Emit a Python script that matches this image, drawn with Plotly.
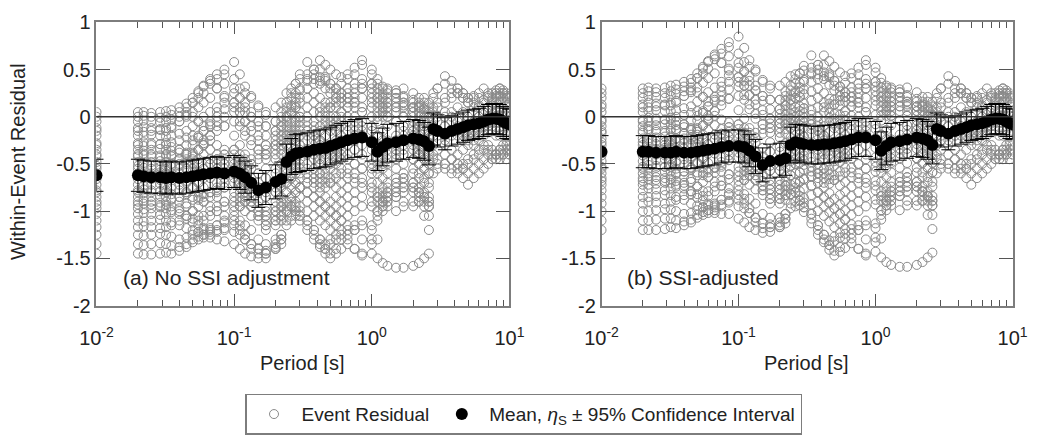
import plotly.graph_objects as go

# ---------------- data ----------------
periods = [0.01,
           0.02, 0.022, 0.025, 0.029, 0.032, 0.035, 0.04, 0.045, 0.05, 0.055,
           0.06, 0.067, 0.075, 0.085, 0.1, 0.11, 0.12, 0.133, 0.15, 0.17, 0.2, 0.22,
           0.24, 0.26, 0.28, 0.3, 0.34, 0.38, 0.42, 0.46, 0.5, 0.55, 0.6, 0.667, 0.75, 0.85,
           1.0, 1.1, 1.2, 1.3, 1.5, 1.7, 2.0, 2.2, 2.4, 2.6,
           2.8, 3.0, 3.4, 3.8, 4.2, 4.6, 5.0, 5.5, 6.0, 6.5, 7.0, 7.5, 8.0, 8.5, 9.0, 9.5, 10.0]

mean_a = [-0.62,
          -0.62, -0.63, -0.64, -0.64, -0.65, -0.64, -0.65, -0.64, -0.63, -0.62,
          -0.61, -0.60, -0.59, -0.60, -0.58, -0.60, -0.64, -0.70, -0.78, -0.75, -0.69, -0.66,
          -0.48, -0.42, -0.39, -0.38, -0.37, -0.35, -0.34, -0.33, -0.31, -0.29, -0.27, -0.25, -0.23, -0.22,
          -0.27, -0.37, -0.32, -0.28, -0.27, -0.25, -0.23, -0.24, -0.26, -0.31,
          -0.13, -0.15, -0.18, -0.15, -0.13, -0.11, -0.09, -0.08, -0.07, -0.05, -0.03, -0.02, -0.02,
          -0.03, -0.05, -0.07, -0.08]

mean_b = [-0.37,
          -0.37, -0.37, -0.38, -0.38, -0.38, -0.37, -0.38, -0.38, -0.37, -0.36,
          -0.35, -0.34, -0.32, -0.31, -0.31, -0.32, -0.36, -0.42, -0.51, -0.47, -0.46, -0.44,
          -0.30, -0.27, -0.28, -0.29, -0.30, -0.30, -0.29, -0.29, -0.28, -0.27, -0.26, -0.24, -0.22, -0.22,
          -0.25, -0.36, -0.31, -0.27, -0.26, -0.24, -0.22, -0.23, -0.25, -0.30,
          -0.13, -0.15, -0.18, -0.15, -0.13, -0.11, -0.09, -0.08, -0.07, -0.05, -0.03, -0.02, -0.02,
          -0.03, -0.05, -0.07, -0.08]

ci95_half = [0.17,
             0.17, 0.17, 0.17, 0.17, 0.17, 0.17, 0.17, 0.17, 0.17, 0.17,
             0.17, 0.17, 0.17, 0.17, 0.17, 0.17, 0.17, 0.18, 0.18, 0.18, 0.18, 0.18,
             0.19, 0.19, 0.20, 0.20, 0.20, 0.20, 0.20, 0.20, 0.20, 0.20, 0.20, 0.20, 0.20, 0.20,
             0.20, 0.20, 0.20, 0.20, 0.20, 0.20, 0.20, 0.20, 0.20, 0.20,
             0.17, 0.17, 0.17, 0.16, 0.16, 0.16, 0.16, 0.16, 0.16, 0.16, 0.16, 0.16, 0.16,
             0.16, 0.16, 0.16, 0.16]

# per-period SSI adjustment (shift of panel b relative to panel a)
ssi_adjustment = [0.25,
                  0.25, 0.26, 0.26, 0.26, 0.27, 0.27, 0.27, 0.26, 0.26, 0.26,
                  0.26, 0.26, 0.27, 0.29, 0.27, 0.28, 0.28, 0.28, 0.27, 0.28, 0.23, 0.22,
                  0.18, 0.15, 0.11, 0.09, 0.07, 0.05, 0.05, 0.04, 0.03, 0.02, 0.01, 0.01, 0.0, 0.0,
                  0.02, 0.01, 0.01, 0.01, 0.01, 0.01, 0.01, 0.01, 0.01, 0.01,
                  0.0, 0.0, 0.0, 0.0, 0.0, 0.0, 0.0, 0.0, 0.0, 0.0, 0.0, 0.0, 0.0,
                  0.0, 0.0, 0.0, 0.0]

NO_LONG = [None] * 17  # events without usable long-period data

# Event residuals (no SSI adjustment), one list per event, aligned with `periods`
ev01 = [0.05, 0.05, 0.05, 0.04, 0.05, 0.06, 0.07, 0.10, 0.14, 0.20, 0.27,
        0.33, 0.40, 0.45, 0.50, 0.58, 0.45, 0.32, 0.20, 0.10, 0.02, -0.05, 0.00,
        0.05, 0.12, 0.20, 0.28, 0.38, 0.50, 0.60, 0.55, 0.50, 0.45, 0.42, 0.40, 0.45, 0.55,
        0.45, 0.35, 0.30, 0.28, 0.25, 0.20, 0.15, 0.10, 0.05, 0.00,
        0.20, 0.30, 0.43, 0.38, 0.30, 0.25, 0.20, 0.22, 0.20, 0.18, 0.22, 0.25, 0.28, 0.30, 0.25, 0.20, 0.15]
ev02 = [0.00, 0.00, 0.01, 0.00, -0.01, 0.00, 0.02, 0.05, 0.10, 0.15, 0.20,
        0.25, 0.35, 0.40, 0.45, 0.40, 0.30, 0.25, 0.22, 0.12, 0.05, 0.10, 0.15,
        0.25, 0.30, 0.35, 0.45, 0.58, 0.50, 0.42, 0.38, 0.30, 0.30, 0.35, 0.45, 0.52, 0.60,
        0.50, 0.40, 0.32, 0.30, 0.28, 0.22, 0.18, 0.12, 0.08, 0.05] + NO_LONG
ev03 = [-0.05, -0.05, -0.04, -0.05, -0.06, -0.05, -0.03, 0.00, 0.02, 0.00, -0.05,
        -0.10, -0.05, 0.05, 0.15, 0.25, 0.20, 0.10, 0.00, -0.05, -0.10, -0.15, -0.10,
        0.00, 0.10, 0.15, 0.20, 0.30, 0.35, 0.38, 0.40, 0.35, 0.30, 0.25, 0.30, 0.35, 0.40,
        0.35, 0.30, 0.25, 0.20, 0.25, 0.30, 0.25, 0.20, 0.10, 0.05,
        0.05, 0.10, 0.15, 0.20, 0.25, 0.20, 0.15, 0.10, 0.12, 0.15, 0.20, 0.18, 0.22, 0.25, 0.20, 0.15, 0.10]
ev04 = [-0.12, -0.12, -0.11, -0.12, -0.13, -0.12, -0.10, -0.05, 0.00, 0.05, 0.10,
        0.15, 0.20, 0.30, 0.35, 0.30, 0.20, 0.15, 0.05, -0.05, -0.10, -0.05, 0.05,
        0.10, 0.20, 0.25, 0.30, 0.40, 0.45, 0.50, 0.42, 0.35, 0.25, 0.20, 0.15, 0.10, 0.05,
        0.00, -0.05, 0.00, 0.05, 0.10, 0.12, 0.10, 0.05, 0.00, -0.05] + NO_LONG
ev05 = [-0.20, -0.20, -0.20, -0.19, -0.20, -0.21, -0.20, -0.18, -0.15, -0.10, -0.05,
        0.00, 0.05, 0.10, 0.20, 0.15, 0.05, -0.05, -0.10, -0.20, -0.30, -0.25, -0.15,
        -0.05, 0.05, 0.10, 0.15, 0.20, 0.25, 0.20, 0.15, 0.10, 0.15, 0.20, 0.25, 0.30, 0.35,
        0.30, 0.20, 0.10, 0.00, -0.05, -0.10, -0.15, -0.20, -0.25, -0.30,
        -0.10, -0.05, 0.00, 0.05, 0.10, 0.05, 0.00, -0.05, 0.00, 0.05, 0.10, 0.12, 0.15, 0.10, 0.05, 0.05, 0.00]
ev06 = [-0.28, -0.28, -0.27, -0.28, -0.29, -0.28, -0.27, -0.25, -0.22, -0.20, -0.22,
        -0.25, -0.20, -0.15, -0.10, -0.05, -0.10, -0.20, -0.30, -0.35, -0.40, -0.30, -0.20,
        -0.10, -0.05, 0.00, 0.05, 0.10, 0.15, 0.10, 0.05, 0.00, -0.05, 0.00, 0.10, 0.15, 0.20,
        0.15, 0.10, 0.05, 0.10, 0.15, 0.10, 0.05, 0.00, -0.10, -0.15,
        -0.20, -0.15, -0.10, -0.05, -0.10, -0.15, -0.10, -0.05, 0.00, -0.05, -0.10, -0.05, 0.00, 0.05, 0.00, -0.05, -0.10]
ev07 = [-0.35, -0.35, -0.36, -0.35, -0.34, -0.35, -0.36, -0.38, -0.40, -0.38, -0.35,
        -0.30, -0.25, -0.30, -0.35, -0.40, -0.45, -0.50, -0.55, -0.60, -0.55, -0.45, -0.35,
        -0.20, -0.10, -0.05, 0.00, -0.05, -0.10, -0.15, -0.10, -0.05, 0.00, 0.05, 0.00, -0.05, -0.10,
        -0.15, -0.20, -0.15, -0.10, -0.05, 0.00, -0.05, -0.10, -0.15, -0.20] + NO_LONG
ev08 = [-0.42, -0.42, -0.41, -0.42, -0.43, -0.42, -0.40, -0.35, -0.30, -0.25, -0.20,
        -0.15, -0.10, -0.05, -0.10, -0.20, -0.30, -0.40, -0.50, -0.60, -0.65, -0.55, -0.40,
        -0.30, -0.25, -0.20, -0.15, -0.20, -0.25, -0.30, -0.35, -0.30, -0.25, -0.20, -0.15, -0.10, -0.05,
        -0.10, -0.20, -0.25, -0.30, -0.35, -0.40, -0.45, -0.50, -0.55, -0.60,
        -0.20, -0.25, -0.30, -0.35, -0.40, -0.35, -0.30, -0.25, -0.20, -0.15, -0.10, -0.15, -0.20, -0.15, -0.10, -0.05, -0.10]
ev09 = [-0.48, -0.48, -0.49, -0.48, -0.47, -0.48, -0.50, -0.52, -0.55, -0.58, -0.60,
        -0.62, -0.60, -0.55, -0.50, -0.45, -0.50, -0.60, -0.70, -0.80, -0.85, -0.80, -0.70,
        -0.40, -0.30, -0.25, -0.30, -0.35, -0.40, -0.45, -0.40, -0.35, -0.30, -0.25, -0.30, -0.35, -0.40,
        -0.45, -0.50, -0.45, -0.40, -0.35, -0.30, -0.35, -0.40, -0.45, -0.50] + NO_LONG
ev10 = [-0.55, -0.55, -0.54, -0.55, -0.56, -0.55, -0.53, -0.50, -0.45, -0.40, -0.35,
        -0.30, -0.35, -0.40, -0.45, -0.50, -0.60, -0.70, -0.80, -0.90, -0.95, -0.90, -0.85,
        -0.50, -0.45, -0.40, -0.45, -0.50, -0.55, -0.60, -0.55, -0.50, -0.45, -0.40, -0.45, -0.50, -0.55,
        -0.60, -0.70, -0.65, -0.60, -0.55, -0.50, -0.45, -0.40, -0.45, -0.50,
        -0.30, -0.35, -0.40, -0.45, -0.50, -0.55, -0.50, -0.45, -0.40, -0.35, -0.30, -0.35, -0.40, -0.35, -0.30, -0.25, -0.30]
ev11 = [-0.60, -0.60, -0.61, -0.60, -0.59, -0.60, -0.62, -0.65, -0.70, -0.75, -0.80,
        -0.85, -0.80, -0.75, -0.70, -0.65, -0.70, -0.80, -0.90, -1.00, -1.05, -1.00, -0.95,
        -0.60, -0.55, -0.50, -0.55, -0.60, -0.65, -0.70, -0.75, -0.70, -0.65, -0.60, -0.55, -0.50, -0.45,
        -0.50, -0.55, -0.50, -0.45, -0.40, -0.35, -0.30, -0.35, -0.40, -0.45] + NO_LONG
ev12 = [-0.66, -0.66, -0.65, -0.66, -0.67, -0.66, -0.65, -0.60, -0.55, -0.50, -0.45,
        -0.40, -0.45, -0.50, -0.55, -0.60, -0.70, -0.80, -0.90, -1.00, -1.10, -1.05, -1.00,
        -0.70, -0.65, -0.60, -0.65, -0.70, -0.75, -0.80, -0.85, -0.90, -0.85, -0.80, -0.75, -0.70, -0.65,
        -0.70, -0.80, -0.75, -0.70, -0.65, -0.60, -0.55, -0.60, -0.65, -0.70,
        -0.40, -0.45, -0.50, -0.55, -0.60, -0.65, -0.72, -0.65, -0.60, -0.55, -0.50, -0.45, -0.40, -0.45, -0.40, -0.35, -0.40]
ev13 = [-0.72, -0.72, -0.73, -0.72, -0.71, -0.72, -0.74, -0.78, -0.82, -0.85, -0.88,
        -0.90, -0.85, -0.80, -0.75, -0.80, -0.85, -0.90, -0.95, -1.05, -1.15, -1.10, -1.05,
        -0.80, -0.75, -0.70, -0.75, -0.80, -0.85, -0.90, -0.95, -1.00, -0.95, -0.90, -0.85, -0.80, -0.75,
        -0.80, -0.85, -0.90, -0.95, -1.00, -0.95, -0.90, -0.85, -0.90, -0.95] + NO_LONG
ev14 = [-0.78, -0.78, -0.77, -0.78, -0.79, -0.78, -0.76, -0.72, -0.68, -0.65, -0.60,
        -0.55, -0.50, -0.45, -0.40, -0.35, -0.45, -0.55, -0.65, -0.75, -0.85, -0.80, -0.75,
        -0.30, -0.25, -0.30, -0.35, -0.40, -0.45, -0.50, -0.45, -0.40, -0.35, -0.30, -0.25, -0.20, -0.15,
        -0.25, -0.35, -0.30, -0.25, -0.20, -0.15, -0.10, -0.05, -0.10, -0.15,
        0.10, 0.15, 0.20, 0.25, 0.30, 0.25, 0.20, 0.15, 0.10, 0.05, 0.10, 0.15, 0.20, 0.22, 0.25, 0.22, 0.20]
ev15 = [-0.85, -0.85, -0.86, -0.85, -0.84, -0.85, -0.87, -0.90, -0.95, -1.00, -1.05,
        -1.10, -1.05, -1.00, -0.95, -0.90, -0.95, -1.00, -1.05, -1.10, -1.20, -1.15, -1.10,
        -0.90, -0.85, -0.80, -0.85, -0.90, -0.95, -1.00, -1.05, -1.10, -1.05, -1.00, -0.95, -0.90, -0.85,
        -0.90, -1.00, -0.95, -0.90, -0.85, -0.80, -0.75, -0.80, -0.85, -0.90] + NO_LONG
ev16 = [-0.90, -0.90, -0.89, -0.90, -0.91, -0.90, -0.88, -0.85, -0.80, -0.75, -0.70,
        -0.65, -0.60, -0.55, -0.50, -0.55, -0.60, -0.70, -0.80, -0.90, -1.00, -0.95, -0.90,
        -0.55, -0.50, -0.45, -0.50, -0.55, -0.60, -0.65, -0.60, -0.55, -0.50, -0.45, -0.40, -0.35, -0.30,
        -0.35, -0.45, -0.40, -0.35, -0.30, -0.25, -0.20, -0.25, -0.30, -0.35,
        -0.05, 0.00, 0.05, 0.00, -0.05, -0.10, -0.15, -0.20, -0.15, -0.10, -0.05, 0.00, 0.05, 0.00, -0.05, -0.10, -0.15]
ev17 = [-0.97, -0.97, -0.98, -0.97, -0.96, -0.97, -0.99, -1.03, -1.08, -1.12, -1.15,
        -1.18, -1.20, -1.15, -1.10, -1.05, -1.10, -1.15, -1.20, -1.30, -1.35, -1.30, -1.25,
        -1.00, -0.95, -0.90, -0.95, -1.00, -1.05, -1.10, -1.15, -1.20, -1.15, -1.10, -1.05, -1.00, -0.95,
        -0.95, -0.90, -0.85, -0.80, -0.75, -0.70, -0.75, -0.80, -0.85, -0.95] + NO_LONG
ev18 = [-1.03, -1.03, -1.02, -1.03, -1.04, -1.03, -1.01, -0.97, -0.92, -0.88, -0.85,
        -0.82, -0.80, -0.78, -0.75, -0.70, -0.75, -0.85, -0.95, -1.05, -1.15, -1.10, -1.05,
        -0.65, -0.60, -0.55, -0.60, -0.65, -0.70, -0.75, -0.70, -0.65, -0.60, -0.55, -0.60, -0.65, -0.70,
        -0.75, -0.85, -0.80, -0.75, -0.70, -0.65, -0.60, -0.65, -0.70, -0.75,
        -0.45, -0.50, -0.55, -0.60, -0.55, -0.50, -0.45, -0.40, -0.35, -0.30, -0.35, -0.40, -0.45, -0.40, -0.35, -0.30, -0.35]
ev19 = [-1.10, -1.10, -1.11, -1.10, -1.09, -1.10, -1.12, -1.15, -1.18, -1.20, -1.22,
        -1.25, -1.22, -1.20, -1.18, -1.15, -1.20, -1.30, -1.40, -1.45, -1.50, -1.40, -1.30,
        -1.10, -1.05, -1.00, -1.05, -1.10, -1.20, -1.30, -1.40, -1.45, -1.40, -1.30, -1.25, -1.20, -1.15,
        -1.15, -1.00, -0.90, -0.85, -0.80, -0.75, -0.70, -0.75, -0.80, -0.85] + NO_LONG
ev20 = [-1.17, -1.17, -1.16, -1.17, -1.18, -1.17, -1.15, -1.10, -1.05, -1.00, -0.95,
        -0.90, -0.95, -1.00, -1.05, -1.00, -0.95, -0.90, -0.85, -0.95, -1.05, -1.00, -0.95,
        -0.70, -0.65, -0.70, -0.75, -0.80, -0.85, -0.90, -0.95, -1.00, -1.05, -1.10, -1.15, -1.20, -1.30,
        -1.35, -1.50, -1.55, -1.58, -1.60, -1.60, -1.58, -1.55, -1.50, -1.45] + NO_LONG
ev21 = [-1.25, -1.25, -1.26, -1.25, -1.24, -1.25, -1.27, -1.30, -1.28, -1.25, -1.22,
        -1.20, -1.18, -1.15, -1.12, -1.10, -1.15, -1.25, -1.35, -1.40, -1.45, -1.35, -1.25,
        -0.95, -0.90, -0.95, -1.00, -1.10, -1.20, -1.30, -1.35, -1.30, -1.25, -1.20, -1.30, -1.40, -1.45,
        -1.30, -1.10, -0.95, -0.85, -0.80, -0.75, -0.80, -0.90, -1.05, -1.20] + NO_LONG
ev22 = [-1.35, -1.35, -1.36, -1.35, -1.34, -1.35, -1.37, -1.38, -1.35, -1.30, -1.27,
        -1.25, -1.28, -1.30, -1.32, -1.35, -1.40, -1.45, -1.48, -1.50, -1.45, -1.40, -1.35,
        -1.15, -1.10, -1.05, -1.10, -1.20, -1.30, -1.38, -1.40, -1.35, -1.30, -1.25, -1.20, -1.15, -1.10,
        -1.20, -1.05, -0.90, -0.80, -0.70, -0.65, -0.70, -0.80, -0.95, -1.05] + NO_LONG
ev23 = [-1.45, -1.45, -1.46, -1.46, -1.45, -1.44, -1.45, -1.42, -1.38, -1.33, -1.30,
        -1.28, -1.25, -1.22, -1.20, -1.22, -1.25, -1.30, -1.35, -1.40, -1.42, -1.38, -1.30,
        -1.00, -0.95, -1.00, -1.05, -1.15, -1.25, -1.35, -1.45, -1.50, -1.45, -1.40, -1.35, -1.40, -1.47,
        -1.45, -1.30, -1.00, -0.90, -0.85, -0.90, -0.95, -0.90, -0.85, -0.90] + NO_LONG
ev24 = [-0.62, -0.62, -0.63, -0.62, -0.61, -0.62, -0.60, -0.55, -0.48, -0.42, -0.35,
        -0.28, -0.20, -0.10, 0.00, 0.10, 0.05, -0.05, -0.15, -0.25, -0.30, -0.20, -0.10,
        0.00, 0.05, 0.10, 0.00, -0.10, -0.15, -0.10, 0.00, 0.10, 0.20, 0.25, 0.20, 0.15, 0.10,
        0.10, 0.05, 0.10, 0.15, 0.20, 0.15, 0.10, 0.05, 0.00, -0.05,
        0.25, 0.30, 0.35, 0.30, 0.25, 0.20, 0.15, 0.20, 0.25, 0.30, 0.25, 0.20, 0.25, 0.30, 0.28, 0.25, 0.22]
ev25 = [-0.30, -0.30, -0.31, -0.30, -0.29, -0.30, -0.32, -0.35, -0.40, -0.45, -0.50,
        -0.55, -0.50, -0.45, -0.40, -0.35, -0.40, -0.45, -0.50, -0.45, -0.40, -0.35, -0.30,
        -0.45, -0.40, -0.35, -0.30, -0.25, -0.20, -0.25, -0.30, -0.35, -0.40, -0.35, -0.30, -0.25, -0.20,
        -0.10, 0.00, 0.05, 0.00, -0.05, -0.10, -0.15, -0.10, -0.05, 0.00,
        -0.60, -0.55, -0.50, -0.45, -0.50, -0.55, -0.60, -0.55, -0.50, -0.45, -0.40, -0.45, -0.40, -0.35, -0.40, -0.45, -0.40]
ev26 = [-0.80, -0.80, -0.81, -0.80, -0.79, -0.80, -0.82, -0.85, -0.80, -0.75, -0.70,
        -0.75, -0.80, -0.85, -0.90, -0.95, -0.90, -0.85, -0.80, -0.70, -0.65, -0.60, -0.50,
        -0.20, -0.15, -0.10, -0.05, 0.00, 0.05, 0.00, -0.05, -0.10, -0.15, -0.10, -0.05, 0.00, 0.05,
        0.20, 0.15, 0.20, 0.25, 0.20, 0.15, 0.10, 0.15, 0.20, 0.15,
        -0.15, -0.20, -0.25, -0.20, -0.15, -0.20, -0.25, -0.30, -0.25, -0.20, -0.15, -0.10, -0.15, -0.20, -0.15, -0.10, -0.05]
ev27 = [-0.15, -0.15, -0.16, -0.15, -0.14, -0.15, -0.12, -0.05, 0.05, 0.15, 0.25,
        0.32, 0.38, 0.30, 0.22, 0.15, 0.10, 0.05, 0.00, -0.10, -0.20, -0.15, -0.05,
        0.15, 0.25, 0.35, 0.40, 0.45, 0.40, 0.35, 0.30, 0.25, 0.20, 0.15, 0.20, 0.25, 0.30,
        0.25, 0.20, 0.15, 0.10, 0.05, 0.00, 0.05, 0.10, 0.15, 0.10] + NO_LONG
ev28 = [-0.52, -0.52, -0.51, -0.52, -0.53, -0.52, -0.50, -0.45, -0.38, -0.30, -0.22,
        -0.15, -0.08, 0.00, 0.08, 0.05, -0.05, -0.15, -0.25, -0.35, -0.45, -0.40, -0.30,
        -0.15, -0.20, -0.25, -0.20, -0.15, -0.05, 0.05, 0.10, 0.15, 0.10, 0.05, 0.10, 0.20, 0.30,
        0.35, 0.25, 0.20, 0.15, 0.10, 0.05, 0.00, -0.05, -0.10, -0.15] + NO_LONG
ev29 = [-0.93, -0.93, -0.92, -0.93, -0.94, -0.93, -0.95, -1.00, -1.05, -1.08, -1.10,
        -1.05, -1.00, -0.95, -0.90, -0.85, -0.80, -0.75, -0.70, -0.75, -0.80, -0.75, -0.70,
        -0.80, -0.85, -0.80, -0.75, -0.70, -0.65, -0.60, -0.65, -0.70, -0.75, -0.70, -0.65, -0.60, -0.55,
        -0.55, -0.60, -0.55, -0.50, -0.45, -0.40, -0.45, -0.50, -0.55, -0.60] + NO_LONG
ev30 = [-0.40, -0.40, -0.39, -0.40, -0.41, -0.40, -0.42, -0.45, -0.50, -0.55, -0.58,
        -0.60, -0.65, -0.70, -0.65, -0.60, -0.55, -0.50, -0.45, -0.40, -0.35, -0.30, -0.25,
        -0.25, -0.20, -0.15, -0.10, -0.15, -0.20, -0.25, -0.20, -0.15, -0.10, -0.05, -0.10, -0.15, -0.20,
        -0.25, -0.30, -0.35, -0.30, -0.25, -0.20, -0.25, -0.30, -0.35, -0.40,
        -0.10, -0.05, -0.10, -0.15, -0.20, -0.25, -0.20, -0.15, -0.10, -0.05, 0.00, 0.05, 0.10, 0.15, 0.10, 0.05, 0.00]

events = [ev01, ev02, ev03, ev04, ev05, ev06, ev07, ev08, ev09, ev10, ev11, ev12, ev13, ev14, ev15,
          ev16, ev17, ev18, ev19, ev20, ev21, ev22, ev23, ev24, ev25, ev26, ev27, ev28, ev29, ev30]

x_tick_vals = [0.01, 0.1, 1, 10]
x_tick_text = ["10<sup>-2</sup>", "10<sup>-1</sup>", "10<sup>0</sup>", "10<sup>1</sup>"]
x_minor_vals = [0.02, 0.03, 0.04, 0.05, 0.06, 0.07, 0.08, 0.09,
                0.2, 0.3, 0.4, 0.5, 0.6, 0.7, 0.8, 0.9,
                2, 3, 4, 5, 6, 7, 8, 9]
y_tick_vals = [-2, -1.5, -1, -0.5, 0, 0.5, 1]
y_tick_text = ["-2", "-1.5", "-1", "-0.5", "0", "0.5", "1"]
panel_labels = ["(a) No SSI adjustment", "(b) SSI-adjusted"]

# ---------------- figure ----------------
FONT = "Liberation Sans, Arial, Helvetica, sans-serif"
GRAY_PT = "#8a8a8a"
TXT = "#222222"

fig = go.Figure()

for p, (xa, ya) in enumerate([("x", "y"), ("x2", "y2")]):
    xs, ys = [], []
    for ev in events:
        for i, v in enumerate(ev):
            if v is None:
                continue
            xs.append(periods[i])
            ys.append(v if p == 0 else v + ssi_adjustment[i])
    fig.add_trace(go.Scatter(
        x=xs, y=ys, mode="markers", xaxis=xa, yaxis=ya,
        name="Event Residual", showlegend=(p == 0), legendrank=1,
        marker=dict(symbol="circle-open", size=9, color=GRAY_PT, line=dict(width=1, color=GRAY_PT)),
        hoverinfo="skip"))

for p, (xa, ya) in enumerate([("x", "y"), ("x2", "y2")]):
    fig.add_trace(go.Scatter(
        x=periods, y=mean_a if p == 0 else mean_b, mode="markers", xaxis=xa, yaxis=ya,
        name="Mean, <i>η</i><sub>S</sub> ± 95% Confidence Interval",
        showlegend=(p == 0), legendrank=2,
        marker=dict(symbol="circle", size=12, color="black"),
        error_y=dict(type="data", array=ci95_half, visible=True, color="black", thickness=1, width=7)))

W, H = 1045, 440
dom_x = [[82 / W, 508 / W], [603 / W, 1027 / W]]
dom_y = [(H - 310) / H, (H - 12) / H]

axis_common = dict(showline=True, linecolor="#7d7d7d", linewidth=1.5, mirror="allticks",
                   ticks="inside", tickcolor="#555555", showgrid=False, zeroline=False,
                   tickfont=dict(family=FONT, size=20, color=TXT))

layout = dict(
    width=W, height=H, margin=dict(l=0, r=0, t=0, b=0),
    paper_bgcolor="white", plot_bgcolor="white",
    font=dict(family=FONT, color=TXT, size=18),
    showlegend=True,
    legend=dict(orientation="h", x=0.5, xanchor="center", y=-6 / H, yanchor="bottom",
                bordercolor="#7d7d7d", borderwidth=1.5, bgcolor="white", itemwidth=45,
                valign="middle",
                font=dict(family=FONT, size=19, color=TXT)),
)
for k, suffix in enumerate(["", "2"]):
    layout["xaxis" + suffix] = dict(
        axis_common, type="log", range=[-2, 1], domain=dom_x[k], anchor="y" + suffix,
        tickmode="array", tickvals=x_tick_vals, ticktext=x_tick_text, ticklen=12,
        ticklabelstandoff=14,
        minor=dict(tickmode="array", tickvals=x_minor_vals, ticks="inside", ticklen=6, tickcolor="#555555"))
    layout["yaxis" + suffix] = dict(
        axis_common, range=[-2, 1], domain=dom_y, anchor="x" + suffix,
        tickmode="array", tickvals=y_tick_vals, ticktext=y_tick_text, ticklen=14)
fig.update_layout(**layout)

# zero reference line in each panel
for xa, ya in [("x", "y"), ("x2", "y2")]:
    fig.add_shape(type="line", xref=xa + " domain", yref=ya, x0=0, x1=1, y0=0, y1=0,
                  line=dict(color="#333333", width=1.5), layer="above")

ann = []
ann.append(dict(text="Within-Event Residual", textangle=-90, x=1 / W, y=(H - 158) / H,
                xref="paper", yref="paper", xanchor="center", yanchor="middle",
                showarrow=False, font=dict(family=FONT, size=20, color=TXT)))
for cx in [294, 814]:
    ann.append(dict(text="Period [s]", x=cx / W, y=(H - 371) / H, xref="paper", yref="paper",
                    xanchor="center", yanchor="middle",
                    showarrow=False, font=dict(family=FONT, size=20, color=TXT)))
for k, lx in enumerate([107, 627]):
    ann.append(dict(text=panel_labels[k], x=lx / W, y=(H - 281) / H, xref="paper", yref="paper",
                    xanchor="left", yanchor="middle", showarrow=False,
                    font=dict(family=FONT, size=21, color=TXT)))
fig.update_layout(annotations=ann)

fig.write_html("out.html")
